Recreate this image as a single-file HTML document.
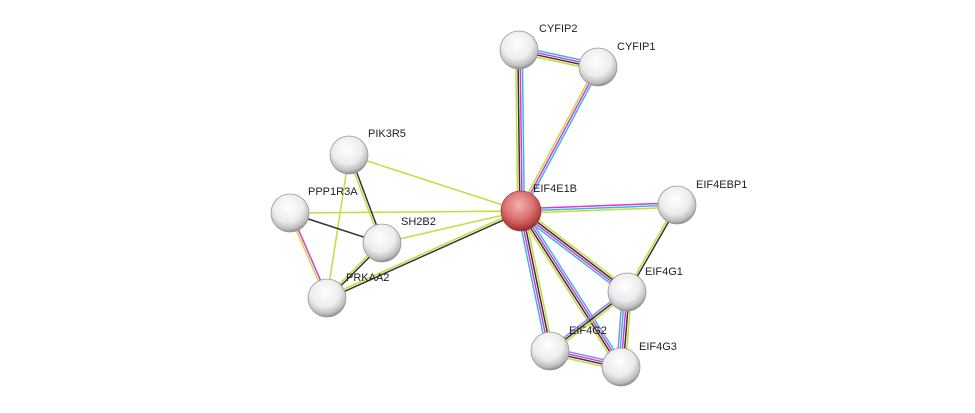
<!DOCTYPE html>
<html><head><meta charset="utf-8"><style>
html,body{margin:0;padding:0;background:#fff;width:975px;height:413px;overflow:hidden}
text{font-family:"Liberation Sans",Arial,sans-serif;font-size:11px;fill:#222}
</style></head><body>
<svg id="s" width="975" height="413" xmlns="http://www.w3.org/2000/svg">
<defs>
<radialGradient id="g" cx="45%" cy="35%" r="65%">
<stop offset="0" stop-color="#ffffff"/><stop offset="0.6" stop-color="#ececec"/><stop offset="0.88" stop-color="#bdbdbd"/><stop offset="1" stop-color="#8a8a8a"/></radialGradient>
<radialGradient id="r" cx="45%" cy="35%" r="65%">
<stop offset="0" stop-color="#f4b0b0"/><stop offset="0.55" stop-color="#dd7070"/><stop offset="0.85" stop-color="#b84444"/><stop offset="1" stop-color="#8a2a2a"/></radialGradient>
</defs>
<g id="e"></g><g id="n"></g>
</svg>
<script>
var N={
E:[521,211,'EIF4E1B',12,-22,1],C2:[519,50,'CYFIP2',20,-21],C1:[598,67,'CYFIP1',19,-20],
P5:[349,155,'PIK3R5',19,-21],PP:[290,213,'PPP1R3A',18,-21],SH:[382,243,'SH2B2',19,-21],
PR:[327,298,'PRKAA2',19,-20],BP:[677,205,'EIF4EBP1',19,-20],G1:[627,292,'EIF4G1',18,-20],
G2:[550,351,'EIF4G2',19,-20],G3:[621,367,'EIF4G3',18,-20]};
var Y='#c5dc3c',M='#d63ad6',C='#3cb8de',K='#333',B='#8c8cf0';
var E=[
['E','C2',[Y,K,M,C]],['E','C1',[Y,M,C]],['C2','C1',[C,M,K,Y]],
['E','P5',[Y]],['E','PP',[Y]],['E','SH',[Y]],['E','PR',[K,Y]],
['P5','SH',[K,Y]],['P5','PR',[Y]],['PP','PR',[M,Y]],['PP','SH',[K]],['SH','PR',[K,Y]],
['E','BP',[M,C,Y]],['BP','G1',[K,Y]],['E','G1',[Y,K,M,C]],['E','G2',[Y,K,M,C]],['E','G3',[C,M,K,Y]],
['G1','G2',[Y,K,B]],['G1','G3',[Y,K,M,C,B]],['G2','G3',[B,M,K,Y]]];
var ns='http://www.w3.org/2000/svg',ge=document.getElementById('e'),gn=document.getElementById('n');
E.forEach(function(e){var a=N[e[0]],b=N[e[1]],dx=b[0]-a[0],dy=b[1]-a[1],l=Math.hypot(dx,dy),px=-dy/l,py=dx/l,c=e[2];
c.forEach(function(col,i){var o=(i-(c.length-1)/2)*2.2;var ln=document.createElementNS(ns,'line');
ln.setAttribute('x1',a[0]+px*o);ln.setAttribute('y1',a[1]+py*o);ln.setAttribute('x2',b[0]+px*o);ln.setAttribute('y2',b[1]+py*o);
ln.setAttribute('stroke',col);ln.setAttribute('stroke-width','1.5');ge.appendChild(ln);});});
for(var k in N){var v=N[k];var c=document.createElementNS(ns,'circle');c.setAttribute('cx',v[0]);c.setAttribute('cy',v[1]);
c.setAttribute('r',v[5]?20:19);c.setAttribute('fill',v[5]?'url(#r)':'url(#g)');c.setAttribute('stroke',v[5]?'#9a4040':'#999');c.setAttribute('stroke-width','0.8');gn.appendChild(c);
var t=document.createElementNS(ns,'text');t.setAttribute('x',v[0]+v[3]);t.setAttribute('y',v[1]+v[4]+3);t.textContent=v[2];gn.appendChild(t);}
</script>
</body></html>
